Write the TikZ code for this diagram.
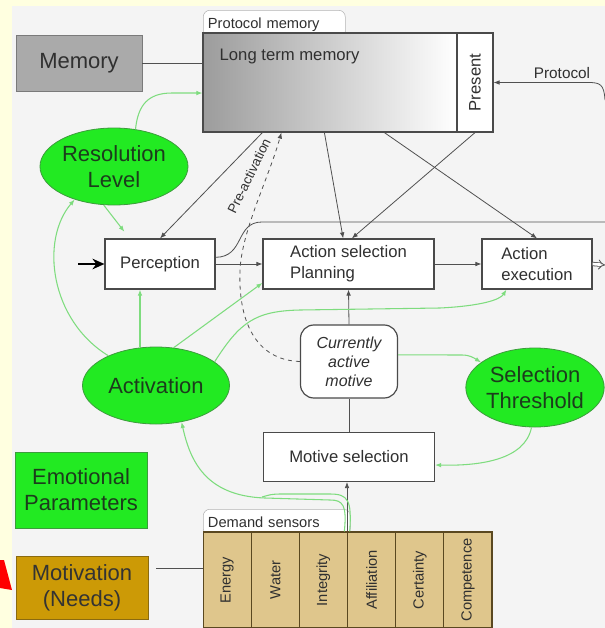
\documentclass[tikz,border=0pt]{standalone}
\usepackage{fontspec}
\setmainfont{Liberation Sans}
\usetikzlibrary{positioning, shapes.geometric, arrows.meta, calc}
\definecolor{bgyellow}{HTML}{FFFFE0}
\definecolor{bggray}{HTML}{F4F4F4}
\definecolor{textgray}{HTML}{303030}
\definecolor{boxedge}{HTML}{4A4A4A}
\definecolor{tabedge}{HTML}{B4B4B4}
\definecolor{linegray}{HTML}{505050}
\definecolor{ltmgray}{HTML}{9C9C9C}
\definecolor{memgray}{HTML}{AAAAAA}
\definecolor{memedge}{HTML}{7A7A7A}
\definecolor{brightgreen}{HTML}{22EA22}
\definecolor{greenedge}{HTML}{3C9C3C}
\definecolor{greentext}{HTML}{1C3C1C}
\definecolor{greenline}{HTML}{7EDC7E}
\definecolor{motivbrown}{HTML}{CC9A06}
\definecolor{motivedge}{HTML}{8A6A10}
\definecolor{sensortan}{HTML}{DFC68C}
\definecolor{sensoredge}{HTML}{5A4820}
\tikzset{
	boxnode/.style={
			rectangle,
			draw=boxedge,
			line width=0.9pt,
			fill=white,
			text=textgray,
			font=\fontsize{12.5}{16}\selectfont,
			align=left,
			inner sep=0pt
		},
	ltmnode/.style={
			boxnode,
			left color=ltmgray,
			right color=white
		},
	motivenode/.style={
			boxnode,
			rounded corners=10pt,
			font=\fontsize{12}{14.25}\selectfont\itshape,
			align=center
		},
	tabnode/.style={
			rectangle,
			rounded corners=5pt,
			draw=tabedge,
			fill=white,
			text=textgray,
			font=\fontsize{11}{13}\selectfont,
			anchor=north west,
			align=left,
			inner xsep=3.5pt,
			inner ysep=0pt
		},
	greennode/.style={
			ellipse,
			draw=greenedge,
			line width=0.6pt,
			fill=brightgreen,
			text=greentext,
			font=\fontsize{16.5}{20}\selectfont,
			align=center,
			inner sep=0pt
		},
	emonode/.style={
			rectangle,
			draw=greenedge,
			line width=0.6pt,
			fill=brightgreen,
			text=greentext,
			font=\fontsize{16.5}{19.5}\selectfont,
			align=center,
			inner sep=0pt
		},
	needsnode/.style={
			emonode,
			draw=motivedge,
			fill=motivbrown,
			text=black!80
		},
	memnode/.style={
			emonode,
			draw=memedge,
			fill=memgray,
			text=textgray
		},
	sensornode/.style={
			rectangle,
			draw=sensoredge,
			line width=0.8pt,
			fill=sensortan,
			text=textgray,
			font=\fontsize{11}{13}\selectfont,
			minimum width=36.1pt,
			minimum height=72pt,
			inner sep=0pt
		},
	conn/.style={
			draw=linegray,
			line width=0.6pt
		},
	greenconn/.style={
			draw=greenline,
			line width=0.8pt
		}
}

\begin{document}
\begin{tikzpicture}[x=0.75pt, y=-0.75pt, >={Latex[length=4.5pt,width=3.5pt]}]
\useasboundingbox (0,0) rectangle (605,628);
\fill[bgyellow] (0,0) rectangle (605,628);
\fill[bggray] (12,6) rectangle (605,628);
\fill[red] (0,560) -- (4,560) -- (12,590) -- (0,588) -- cycle;

% memory part
\node[memnode, minimum width=94.5pt, minimum height=42pt] (mem) at (79,63) {Memory};
\node[tabnode, minimum width=106.5pt, minimum height=21pt, text width=99.5pt] (prot) at (203,10) {Protocol memory};
\node[ltmnode, minimum width=190.5pt, minimum height=74.25pt] (ltm) at (330,82.5) {};
\node[anchor=base west, font=\fontsize{12.5}{15}\selectfont, text=textgray] (ltmlabel) at (215,60) {Long term memory};
\node[boxnode, minimum width=27pt, minimum height=74.25pt] (present) at (475,82.5) {\rotatebox{90}{Present}};
\node[anchor=base, font=\fontsize{11.5}{13}\selectfont, text=textgray] (protlabel) at (562,78) {Protocol};
\coordinate (protin) at (605,100);

% processing
\node[boxnode, minimum width=82.5pt, minimum height=37.5pt] (perc) at (160,264) {Perception};
\node[boxnode, minimum width=128.25pt, minimum height=37.5pt] (actsel) at (348.5,264) {Action selection\\Planning};
\node[boxnode, minimum width=82.5pt, minimum height=37.5pt] (actexec) at (537,264) {Action\\execution};
\node[motivenode, minimum width=72.75pt, minimum height=54.75pt] (cam) at (349,361.5) {Currently\\active\\motive};
\node[boxnode, minimum width=128.25pt, minimum height=36.75pt] (motsel) at (349,457) {Motive selection};
\coordinate (percin) at (78,264);
\coordinate (topline) at (605,222);
\coordinate (execout) at (605,265);

% parameters
\node[greennode, minimum width=111pt, minimum height=57.75pt] (reslevel) at (114,166.5) {Resolution\\Level};
\node[greennode, minimum width=110.25pt, minimum height=57.75pt] (activ) at (156,385.5) {Activation};
\node[greennode, minimum width=97.5pt, minimum height=59.25pt] (selthr) at (535,387.5) {Selection\\Threshold};
\node[emonode, minimum width=99pt, minimum height=57pt] (emo) at (81,490) {Emotional\\Parameters};
\node[needsnode, minimum width=99pt, minimum height=47.25pt] (motiv) at (82,587.5) {Motivation\\(Needs)};

% demand sensors
\node[tabnode, minimum width=110.25pt, minimum height=19.5pt, text width=103.25pt] (demand) at (203,509) {Demand sensors};
\node[sensornode] (energy) at (227.1,580) {\rotatebox{90}{Energy}};
\node[sensornode] (water) at (275.3,580) {\rotatebox{90}{Water}};
\node[sensornode] (integ) at (323.4,580) {\rotatebox{90}{Integrity}};
\node[sensornode] (affil) at (371.6,580) {\rotatebox{90}{Affiliation}};
\node[sensornode] (certain) at (419.8,580) {\rotatebox{90}{Certainty}};
\node[sensornode] (compet) at (467.9,580) {\rotatebox{90}{Competence}};

% black connectors
\draw[conn] (mem.east) -- (mem.east -| ltm.west);
\draw[conn, ->] (protin) .. controls (604,84) and (600,82.5) .. (588,82.5) -- (present.east);
\draw[conn, ->] ([xshift=45pt]ltm.south west) -- (perc.north);
\draw[conn, ->] ([xshift=91.5pt]ltm.south west) -- ([xshift=-4pt]actsel.north);
\draw[conn, ->] (present.south) -- ([xshift=2.5pt]actsel.north);
\draw[conn, ->] ([xshift=136.5pt]ltm.south west) -- (actexec.north);
\draw[conn, ->] (perc.east) -- (actsel.west);
\draw[conn, ->] (actsel.east) -- (actexec.west);
\draw[conn] ([yshift=5pt]perc.east) .. controls (245,257) and (235,222) .. (262,222) -- (topline);
\draw[conn, double, double distance=2pt, -{Implies}] (actexec.east) -- (execout);
\draw[black, line width=1.2pt, -{Stealth[length=9pt,width=8pt]}] (percin) -- (perc.west);
\draw[conn, ->] (cam.north) -- (actsel.south);
\draw[conn] (motsel.north) -- (cam.south);
\draw[conn, ->] (affil.north west) -- (affil.north west |- motsel.south);
\draw[conn] ($(motiv.east)+(6pt,14.6pt)$) -- ($(energy.west |- motiv.east)+(0pt,14.6pt)$);
\draw[conn, dashed, ->] (cam.west) .. controls (255,360) and (238,320) .. (240,270) .. controls (242,230) and (268,180) .. ([xshift=59.25pt]ltm.south west);
\node[font=\fontsize{10}{12}\selectfont, text=textgray, rotate=64, inner sep=1pt] (prelabel) at (249,176) {Pre-activation};

% green connectors
\coordinate (percfoot) at ($(perc.south)+(-15pt,0pt)$);
\coordinate (greenjoin) at (262,497);
\draw[greenconn, ->] (reslevel.60) .. controls (138,105) and (148,93) .. (172,93) -- ([yshift=-7.9pt]ltm.west);
\draw[greenconn, ->] (reslevel.255) -- ([xshift=15pt,yshift=5pt]perc.north west);
\draw[greenconn, ->] (activ.148) .. controls (50,320) and (40,240) .. (reslevel.220);
\draw[greenconn, ->] (percfoot |- activ.north) -- (percfoot);
\draw[greenconn, ->] (activ.65) -- ([yshift=5pt]actsel.south west);
\draw[greenconn, ->] (activ.22) .. controls (240,322) and (255,311) .. (300,310) -- (440,308) .. controls (480,306) and (500,300) .. ([xshift=18.75pt]actexec.south west);
\draw[greenconn, ->] ([yshift=5pt]cam.east) -- (462,355) .. controls (470,355) and (474,358) .. (selthr.155);
\draw[greenconn, ->] (selthr.265) .. controls (525,460) and (480,466) .. ([yshift=-6pt]motsel.east);
\draw[greenconn, ->] ([xshift=-2pt]affil.north west) .. controls (347,505) and (343,500) .. (330,500) -- (265,498) .. controls (205,496) and (190,460) .. (activ.305);
\draw[greenconn] ([xshift=2pt]affil.north west) .. controls (352,500) and (348,494) .. (330,494) -- (280,494) .. controls (270,494) and (266,496) .. (greenjoin);

\end{tikzpicture}
\end{document}
